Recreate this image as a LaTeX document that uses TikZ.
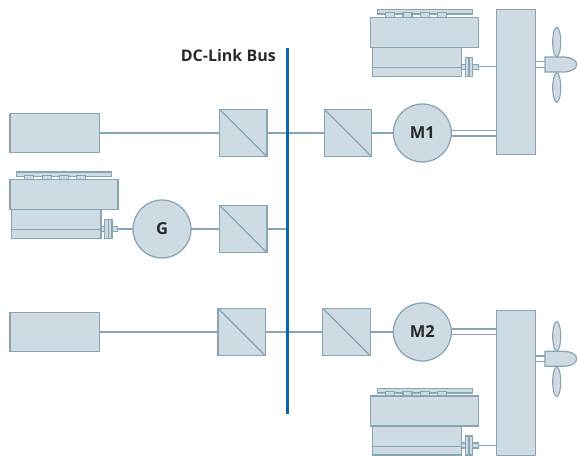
\documentclass[tikz,border=0pt]{standalone}
\usepackage{fontspec}
\setmainfont{Open Sans}
\usetikzlibrary{shapes.geometric}
\definecolor{partfill}{HTML}{CFDBE3}
\definecolor{partline}{HTML}{88A5B4}
\definecolor{busblue}{HTML}{0A64B0}
\definecolor{labeltext}{HTML}{2B2B2B}
\newcommand{\lowered}[1]{\raisebox{-1pt}{#1}}
\tikzset{
  x=1pt,y=-1pt,
  part/.style={draw=partline,fill=partfill,line width=1.25pt,inner sep=0pt,outer sep=0pt,rectangle},
  wire/.style={draw=partline,line width=1.3pt},
  shaftline/.style={draw=partline,line width=1.2pt},
  machine/.style={draw=partline,fill=partfill,line width=1.25pt,circle,minimum size=58pt,inner sep=0pt,outer sep=0pt,font=\fontsize{16.5}{18}\selectfont\bfseries,text=labeltext},
  conv/.style={part,minimum width=47.4pt,minimum height=47.4pt},
  battery/.style={part,minimum width=89.6pt,minimum height=39.2pt},
  gearbox/.style={part,minimum width=39.4pt,minimum height=145.4pt},
  blade/.style={draw=partline,fill=partfill,line width=1.1pt,ellipse,minimum width=8pt,minimum height=29.5pt,inner sep=0pt,outer sep=0pt},
  busline/.style={draw=busblue,line width=3.2pt},
  buslabel/.style={font=\fontsize{16}{18}\selectfont\bfseries,text=labeltext,inner sep=0pt,anchor=east}
}
% #1 prefix, #2 dx, #3 dy
\newcommand{\enginepart}[3]{%
  \begin{scope}[shift={(#2,#3)}]
    \node[part,minimum width=95pt,minimum height=4.6pt] (#1plate) at (425,11.8) {};
    \foreach \tx/\tn in {390/a,407.5/b,424.8/c,442/d}
      \node[part,minimum width=9pt,minimum height=4.6pt] (#1tab\tn) at (\tx,15) {};
    \node[part,minimum width=89.4pt,minimum height=29pt] (#1block) at (417,61.8) {};
    \draw[shaftline] (#1block.west |- 0,67.3) -- (#1block.east |- 0,67.3);
    \node[part,minimum width=108pt,minimum height=30pt] (#1head) at (424.7,32.3) {};
    \node[part,minimum width=16.6pt,minimum height=5pt] (#1shaft) at (470,66.8) {};
    \node[part,minimum width=7.4pt,minimum height=19pt] (#1flange) at (469,66.8) {};
    \draw[shaftline] (#1flange.north) -- (#1flange.south);
  \end{scope}}
% #1 prefix, #2 dy
\newcommand{\propellerpart}[2]{%
  \begin{scope}[shift={(0,#2)}]
    \coordinate (#1hubw) at (545,64.5);
    \draw[shaftline] (535.7,61.7) -- (545,61.7) (535.7,67.3) -- (545,67.3);
    \node[blade] (#1bladeup) at (556.7,42) {};
    \node[blade] (#1bladedown) at (556.7,87.5) {};
    \draw[draw=partline,fill=partfill,line width=1.2pt] (545,57) -- (563,57) .. controls (571,57) and (576.7,60) .. (576.7,64.5) .. controls (576.7,69) and (571,72) .. (563,72) -- (545,72) -- cycle;
  \end{scope}}
\begin{document}
\begin{tikzpicture}
\useasboundingbox (0,0) rectangle (577,455);
\fill[white] (0,0) rectangle (577,455);
\begin{scope}
\clip (0,0) rectangle (577,455);
% nodes
\node[battery] (bat1) at (54.8,132.8) {};
\node[battery] (bat2) at (54.8,331.8) {};
\node[conv] (c1) at (243.2,133) {};
\node[conv] (c2) at (348,133) {};
\node[conv] (c3) at (243.2,229) {};
\node[conv] (c4) at (241.8,332) {};
\node[conv] (c5) at (346.5,332) {};
\node[machine] (m1) at (422.3,133) {\lowered{M1}};
\node[machine] (m2) at (422.3,332) {\lowered{M2}};
\node[machine] (g) at (162,229) {\lowered{G}};
\node[gearbox] (gb1) at (516,82) {};
\node[gearbox] (gb2) at (516,383) {};
\enginepart{ea}{0}{0}
\enginepart{eb}{-360.8}{162.5}
\enginepart{ec}{0}{378.8}
\propellerpart{pa}{0}
\propellerpart{pb}{294.3}
% diagonals
\foreach \c in {c1,c2,c3,c4,c5}
  \draw[wire,line width=1.2pt] (\c.north west) -- (\c.south east);
% connectors
\coordinate (bustop) at (287.5,48);
\coordinate (busbottom) at (287.5,414);
\draw[wire] (bat1.east |- c1) -- (c1.west);
\draw[wire] (c1.east) -- (c2.west);
\draw[wire] (c2.east) -- (m1.west);
\draw[wire] (bat2.east |- c4) -- (c4.west);
\draw[wire] (c4.east) -- (c5.west);
\draw[wire] (c5.east) -- (m2.west);
\draw[wire] (ebshaft.east |- g) -- (g.west);
\draw[wire] (g.east) -- (c3.west);
\draw[wire] (c3.east) -- (c3.east -| bustop);
\draw[wire] (eashaft.east) -- (eashaft.east -| gb1.west);
\draw[wire] (ecshaft.east) -- (ecshaft.east -| gb2.west);
\draw[shaftline] (451.5,130.3) -- (gb1.west |- 0,130.3) (451.5,136) -- (gb1.west |- 0,136);
\draw[shaftline] (451.5,329) -- (gb2.west |- 0,329) (451.5,334.7) -- (gb2.west |- 0,334.7);
\draw[busline] (bustop) -- (busbottom);
\node[buslabel] (buslab) at (276,55.5) {DC-Link Bus};
\end{scope}
\end{tikzpicture}
\end{document}
